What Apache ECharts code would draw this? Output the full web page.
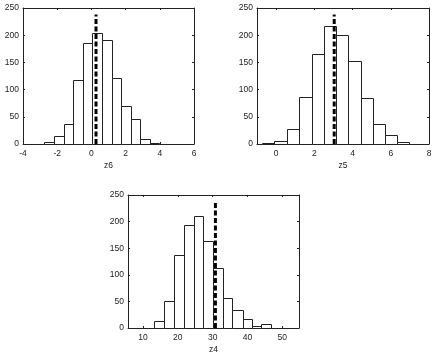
<!DOCTYPE html>
<html>
<head>
    <meta charset="utf-8">
    <title>ECharts</title>
    <script src="https://cdn.jsdelivr.net/npm/echarts@6/dist/echarts.min.js"></script>
</head>
<body style="margin: 0">
<div id="main" style="width: 436px; height: 355px"></div>
<script type="text/javascript">
    // bin edges and counts
    var z6Edges = [-2.75, -2.18, -1.61, -1.08, -0.49, 0.06, 0.61, 1.18, 1.76, 2.31, 2.86, 3.43, 3.98];
    var z6Counts = [4, 14, 36, 118, 186, 204, 191, 121, 70, 46, 9, 2];
    var z6Mark = 0.27;

    var z5Edges = [-0.72, -0.11, 0.56, 1.21, 1.86, 2.49, 3.14, 3.75, 4.42, 5.07, 5.68, 6.35, 6.95];
    var z5Counts = [2, 6, 28, 87, 165, 216, 201, 153, 85, 37, 17, 3];
    var z5Mark = 3.04;

    var z4Edges = [13.2, 16.0, 18.9, 21.8, 24.6, 27.3, 30.1, 33.0, 35.7, 38.6, 41.3, 44.0, 46.9];
    var z4Counts = [13, 50, 137, 194, 211, 164, 113, 56, 33, 17, 4, 8];
    var z4Mark = 30.8;

    var markTop = 238;

    var panels = [
        {name: 'z6', edges: z6Edges, counts: z6Counts, mark: z6Mark, min: -4, max: 6, step: 2,
            grid: {left: 23, top: 8, width: 171, height: 136}},
        {name: 'z5', edges: z5Edges, counts: z5Counts, mark: z5Mark, min: -1, max: 8, step: 2,
            grid: {left: 257, top: 8, width: 172, height: 136}},
        {name: 'z4', edges: z4Edges, counts: z4Counts, mark: z4Mark, min: 5.7, max: 54.8, step: 10,
            grid: {left: 128, top: 195, width: 171, height: 135}}
    ];

    var lbl = {fontSize: 8.5, color: '#222', fontFamily: 'Liberation Sans'};
    var line = {show: true, onZero: false, lineStyle: {color: '#222', width: 1}};
    var tick = {show: true, inside: true, length: 2, lineStyle: {color: '#222'}};

    var grids = [], xAxes = [], yAxes = [], series = [];

    panels.forEach(function (p, i) {
        grids.push(p.grid);
        var step = p.step;
        var fmt = function (v) {
            var r = Math.round(v / step) * step;
            return Math.abs(r - v) < 1e-6 ? String(r) : '';
        };
        // bottom axis with labels
        xAxes.push({
            type: 'value', gridIndex: i, min: p.min, max: p.max, position: 'bottom',
            name: p.name, nameLocation: 'middle', nameGap: 17, nameTextStyle: lbl,
            splitLine: {show: false}, axisLine: line, axisTick: tick,
            axisLabel: Object.assign({formatter: fmt, margin: 5}, lbl)
        });
        // top axis (box)
        xAxes.push({
            type: 'value', gridIndex: i, min: p.min, max: p.max, position: 'top',
            splitLine: {show: false}, axisLine: line, axisTick: tick,
            axisLabel: {show: false}
        });
        yAxes.push({
            type: 'value', gridIndex: i, min: 0, max: 250, interval: 50, position: 'left',
            splitLine: {show: false}, axisLine: line, axisTick: tick,
            axisLabel: Object.assign({margin: 4}, lbl)
        });
        yAxes.push({
            type: 'value', gridIndex: i, min: 0, max: 250, interval: 50, position: 'right',
            splitLine: {show: false}, axisLine: line, axisTick: tick,
            axisLabel: {show: false}
        });

        var bins = p.counts.map(function (c, k) {
            return [p.edges[k], p.edges[k + 1], c];
        });
        series.push({
            type: 'custom',
            xAxisIndex: i * 2, yAxisIndex: i * 2,
            data: bins,
            encode: {x: [0, 1], y: 2},
            renderItem: function (params, api) {
                var a = api.coord([api.value(0), 0]);
                var b = api.coord([api.value(1), api.value(2)]);
                return {
                    type: 'rect',
                    shape: {x: Math.round(a[0]) + 0.5, y: Math.round(b[1]) + 0.5,
                        width: Math.round(b[0]) - Math.round(a[0]), height: Math.round(a[1]) - Math.round(b[1])},
                    style: {fill: '#fff', stroke: '#222', lineWidth: 1}
                };
            }
        });
        series.push({
            type: 'line',
            xAxisIndex: i * 2, yAxisIndex: i * 2,
            data: [[p.mark, 0], [p.mark, markTop]],
            symbol: 'none',
            z: 5,
            lineStyle: {color: '#000', width: 3, type: [5, 2.5]}
        });
    });

    var myChart = echarts.init(document.getElementById('main'));
    myChart.setOption({
        backgroundColor: '#fff',
        animation: false,
        grid: grids,
        xAxis: xAxes,
        yAxis: yAxes,
        series: series
    });
</script>
</body>
</html>
